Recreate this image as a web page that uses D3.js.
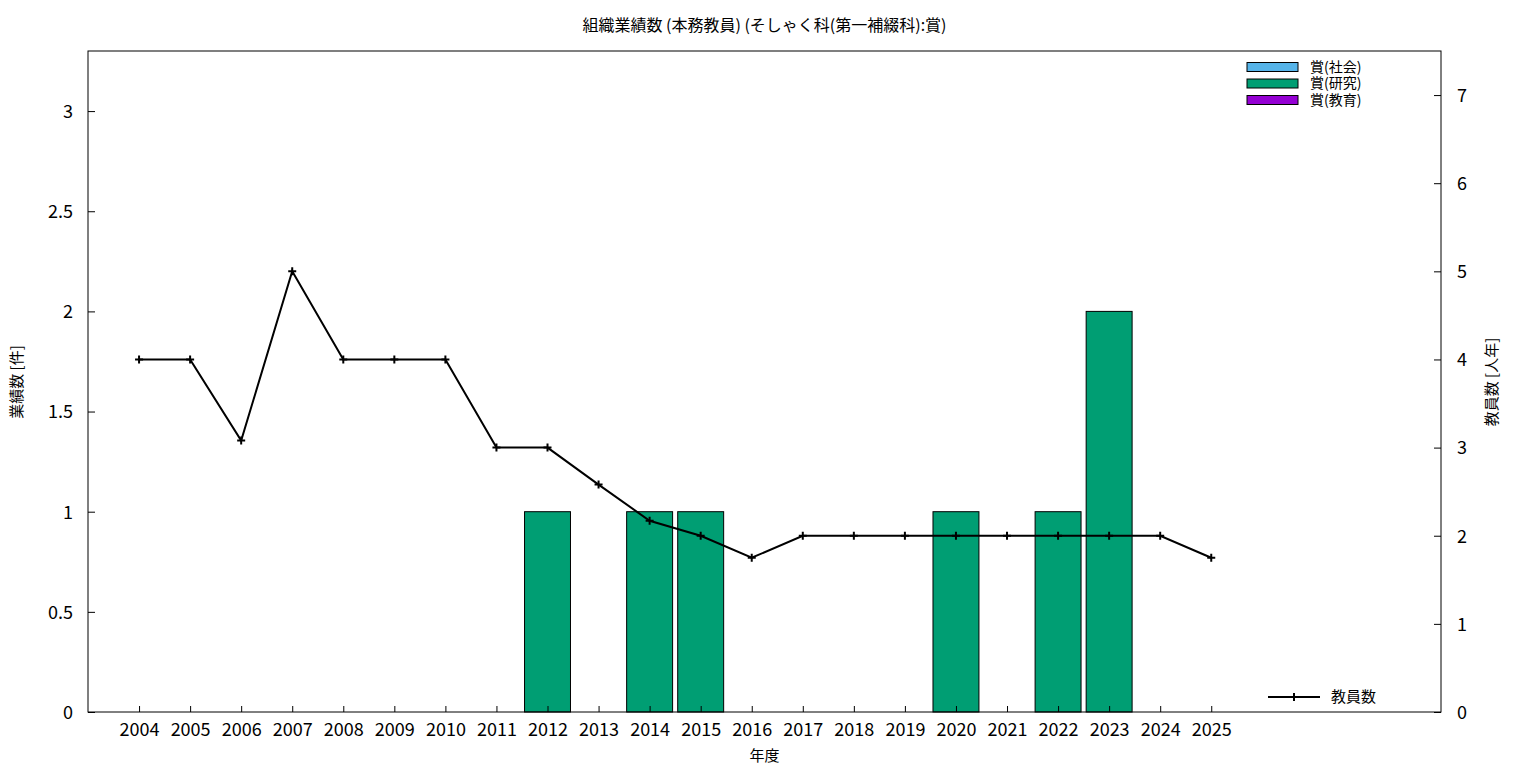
<!DOCTYPE html>
<html><head><meta charset="utf-8">
<script src="https://cdn.jsdelivr.net/npm/d3@7"></script>
<style>
body{margin:0;background:#fff;}
text{font-family:"Noto Sans CJK JP","Noto Sans",sans-serif;fill:#000;}
</style></head>
<body><svg id="c" width="1536" height="768"></svg>
<script>
const years = [2004,2005,2006,2007,2008,2009,2010,2011,2012,2013,2014,2015,2016,2017,2018,2019,2020,2021,2022,2023,2024,2025];
const awardSocial   = [0,0,0,0,0,0,0,0,0,0,0,0,0,0,0,0,0,0,0,0,0,0];
const awardResearch = [0,0,0,0,0,0,0,0,1,0,1,1,0,0,0,0,1,0,1,2,0,0];
const awardEducation= [0,0,0,0,0,0,0,0,0,0,0,0,0,0,0,0,0,0,0,0,0,0];
const staff = [4,4,3.08,5,4,4,4,3,3,2.58,2.17,2,1.75,2,2,2,2,2,2,2,2,1.75];
const leftTicks = [0,0.5,1,1.5,2,2.5,3];
const rightTicks = [0,1,2,3,4,5,6,7];
const seriesNames = ["賞(社会)","賞(研究)","賞(教育)"];
const seriesColors = ["#56b4e9","#009e73","#9400d3"];
const title = "組織業績数 (本務教員) (そしゃく科(第一補綴科):賞)";

const svg = d3.select("#c");
const L=88,R=1441,T=51,B=712;
const x = d3.scaleLinear().domain([-1,25.5]).range([L,R]);
const y = d3.scaleLinear().domain([0,3.3]).range([B,T]);
const y2 = d3.scaleLinear().domain([0,7.5]).range([B,T]);
const bw = (x(1)-x(0))*0.9;

// bars (stacked)
const stacks = [awardSocial,awardResearch,awardEducation];
years.forEach((yr,i)=>{
  let base=0;
  stacks.forEach((s,k)=>{
    const v=s[i];
    if(v>0){
      svg.append("rect").attr("x",x(i)-bw/2).attr("width",bw)
        .attr("y",y(base+v)).attr("height",y(base)-y(base+v))
        .attr("fill",seriesColors[k]).attr("stroke","#000").attr("stroke-width",1);
    }
    base+=v;
  });
});

// line
const line = d3.line().x((d,i)=>x(i)).y(d=>y2(d));
svg.append("path").datum(staff).attr("d",line).attr("fill","none").attr("stroke","#000").attr("stroke-width",2);
staff.forEach((d,i)=>{
  const cx=x(i), cy=y2(d);
  svg.append("path").attr("d",`M${cx-4},${cy}H${cx+4}M${cx},${cy-4}V${cy+4}`).attr("stroke","#000").attr("stroke-width",2);
});

// border
svg.append("rect").attr("x",L).attr("y",T).attr("width",R-L).attr("height",B-T).attr("fill","none").attr("stroke","#000").attr("stroke-width",1);

// axes
const ax = d3.axisBottom(x).tickValues(d3.range(years.length)).tickFormat(i=>years[i]).tickSizeInner(-6).tickSizeOuter(0).tickPadding(11);
const gx = svg.append("g").attr("transform",`translate(0,${B})`).call(ax);
const ay = d3.axisLeft(y).tickValues(leftTicks).tickFormat(d=>String(d)).tickSizeInner(-7).tickSizeOuter(0).tickPadding(15);
const gy = svg.append("g").attr("transform",`translate(${L},0)`).call(ay);
const ay2 = d3.axisRight(y2).tickValues(rightTicks).tickSizeInner(-7).tickSizeOuter(0).tickPadding(16);
const gy2 = svg.append("g").attr("transform",`translate(${R},0)`).call(ay2);
[gx,gy,gy2].forEach(g=>{
  g.select(".domain").remove();
  g.selectAll("text").style("font-family","'Noto Sans CJK JP',sans-serif").style("font-size","18px").attr("fill","#000");
  g.selectAll("line").attr("stroke","#000");
});
gy.selectAll("text").attr("dy","0.35em");
gy2.selectAll("text").attr("dy","0.35em");

// title & labels
svg.append("text").attr("x",(L+R)/2).attr("y",31).attr("text-anchor","middle").style("font-size","16px").text(title);
svg.append("text").attr("x",(L+R)/2).attr("y",761).attr("text-anchor","middle").style("font-size","15px").text("年度");
svg.append("text").attr("transform",`translate(22,382) rotate(-90)`).attr("text-anchor","middle").style("font-size","15px").text("業績数 [件]");
svg.append("text").attr("transform",`translate(1497,382) rotate(-90)`).attr("text-anchor","middle").style("font-size","15px").text("教員数 [人年]");

// legend (bars)
seriesNames.forEach((n,k)=>{
  const ly = 67 + k*16.5;
  svg.append("rect").attr("x",1247).attr("y",ly-4.5).attr("width",51).attr("height",9)
    .attr("fill",seriesColors[k]).attr("stroke","#000").attr("stroke-width",1);
  svg.append("text").attr("x",1310).attr("y",ly).attr("dy","0.35em").style("font-size","14px").text(n);
});
// legend (line)
svg.append("path").attr("d","M1268,697H1320").attr("stroke","#000").attr("stroke-width",2);
svg.append("path").attr("d","M1294,693V701").attr("stroke","#000").attr("stroke-width",2);
svg.append("text").attr("x",1331).attr("y",697).attr("dy","0.35em").style("font-size","15px").text("教員数");
</script></body></html>
